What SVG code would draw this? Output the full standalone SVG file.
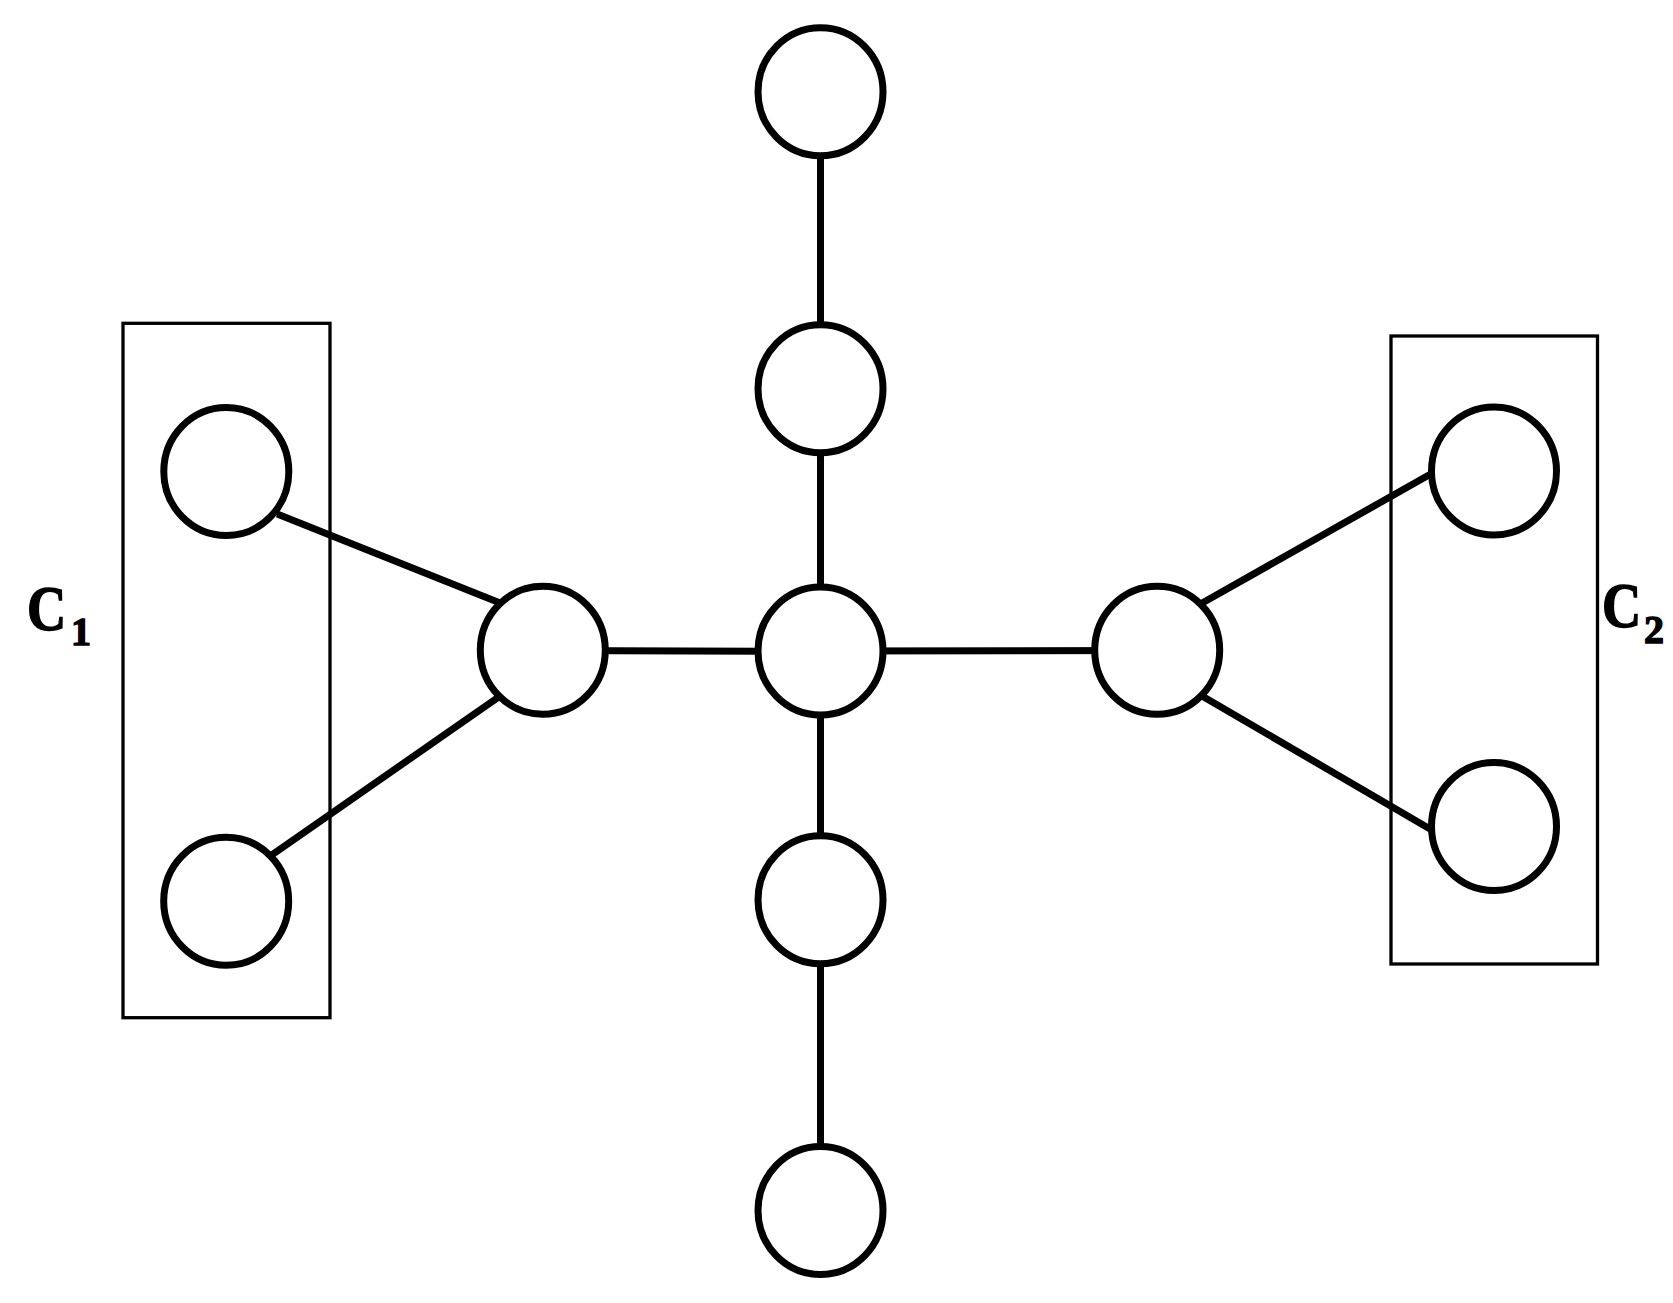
<svg xmlns="http://www.w3.org/2000/svg" width="1673" height="1303" viewBox="0 0 1673 1303">
<style>
.node{fill:#fff;stroke:#000;stroke-width:7}
.edge{stroke:#000;stroke-width:7;fill:none}
.box{fill:none;stroke:#000;stroke-width:3.3}
.lbl{font-family:"Liberation Serif","Times New Roman",serif;font-weight:bold;fill:#000;stroke:#000;stroke-width:1.4}
</style>
<rect width="1673" height="1303" fill="#fff"/>
<g id="clusters">
<rect id="box-c1" class="box" x="123" y="323.3" width="207" height="694.4"/>
<rect id="box-c2" class="box" x="1391" y="336" width="206.5" height="628"/>
</g>
<g id="connectors">
<line class="edge" x1="820.5" y1="91.7" x2="820.5" y2="388.7"/>
<line class="edge" x1="820.5" y1="388.7" x2="820.5" y2="651"/>
<line class="edge" x1="820.5" y1="651" x2="820.5" y2="899.8"/>
<line class="edge" x1="820.5" y1="899.8" x2="820.5" y2="1210.5"/>
<line class="edge" x1="542.8" y1="650.5" x2="820.5" y2="651.5"/>
<line class="edge" x1="820.5" y1="651" x2="1157.2" y2="650.5"/>
<line class="edge" x1="277.2" y1="513.9" x2="499.5" y2="602.8"/>
<line class="edge" x1="270.8" y1="855.7" x2="499.2" y2="696.6"/>
<line class="edge" x1="1199.1" y1="604.8" x2="1431.6" y2="473.5"/>
<line class="edge" x1="1200.7" y1="695.2" x2="1432.6" y2="830.5"/>
</g>
<g id="n-top"><ellipse class="node" cx="820.5" cy="91.7" rx="62.5" ry="64"/></g>
<g id="n-upper"><ellipse class="node" cx="820.5" cy="388.7" rx="62.5" ry="64"/></g>
<g id="n-center"><ellipse class="node" cx="820.5" cy="651" rx="62.5" ry="64"/></g>
<g id="n-lower"><ellipse class="node" cx="820.5" cy="899.8" rx="62.5" ry="64"/></g>
<g id="n-bottom"><ellipse class="node" cx="820.5" cy="1210.5" rx="62.5" ry="64"/></g>
<g id="n-left"><ellipse class="node" cx="542.8" cy="650.3" rx="62.5" ry="64"/></g>
<g id="n-right"><ellipse class="node" cx="1157.2" cy="650.3" rx="62.5" ry="64"/></g>
<g id="n-c1-top"><ellipse class="node" cx="226.3" cy="471.5" rx="62.5" ry="64"/></g>
<g id="n-c1-bottom"><ellipse class="node" cx="226.2" cy="901.3" rx="62.5" ry="64"/></g>
<g id="n-c2-top"><ellipse class="node" cx="1494" cy="471" rx="62.5" ry="64"/></g>
<g id="n-c2-bottom"><ellipse class="node" cx="1494" cy="826.5" rx="62.5" ry="64"/></g>
<g id="labels">
<text class="lbl" font-size="64" transform="translate(27,630) scale(0.85,1)">C</text>
<text class="lbl" x="71" y="645" font-size="40">1</text>
<text class="lbl" font-size="64" transform="translate(1602,627) scale(0.85,1)">C</text>
<text class="lbl" x="1644" y="643" font-size="40">2</text>
</g>
</svg>
